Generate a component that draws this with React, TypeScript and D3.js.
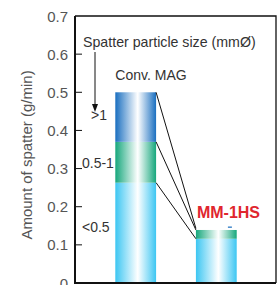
import React from "react";
import * as d3 from "d3";

// processes compared
const processes = ["Conv. MAG", "MM-1HS"];
// particle size classes, stacked from bottom to top
const sizeClasses = ["<0.5", "0.5-1", ">1"];
// spatter amount (g/min) per size class, same order as sizeClasses
const convMagValues = [0.263, 0.107, 0.13];
const mm1hsValues = [0.116, 0.023, 0.003];
const yTicks = [0, 0.1, 0.2, 0.3, 0.4, 0.5, 0.6, 0.7];

const W = 279;
const H = 285;
const FONT = "'Liberation Sans', Arial, sans-serif";
const segColors = ["#3cc6f2", "#16a77c", "#1a6fc0"];

const App: React.FC = () => {
  const y = d3.scaleLinear().domain([0, 0.7]).range([283, 16]);
  const x = d3
    .scaleBand<string>()
    .domain(processes)
    .range([75, 277])
    .paddingInner(0.494)
    .paddingOuter(0.5);
  const bw = x.bandwidth();

  const rows = [convMagValues, mm1hsValues];
  const stacked = rows.map((vals) => {
    let acc = 0;
    return vals.map((v) => {
      const s = { y0: acc, y1: acc + v };
      acc += v;
      return s;
    });
  });

  const x0 = x(processes[0])! + bw;
  const x1 = x(processes[1])!;
  const a = stacked[0];
  const b = stacked[1];
  // connector lines between the two bars
  const connectors = [
    [a[2].y1, b[1].y1 + 0.004],
    [a[1].y1, b[1].y1],
    [a[0].y1, b[0].y1],
  ];

  return (
    <svg
      width={W}
      height={H}
      style={{ position: "absolute", left: 0, top: 0, background: "#fff" }}
      fontFamily={FONT}
    >
      <defs>
        {segColors.map((c, i) => (
          <linearGradient id={`g${i}`} key={i} x1="0" x2="1" y1="0" y2="0">
            <stop offset="0" stopColor={c} />
            <stop offset="0.55" stopColor="#ffffff" />
            <stop offset="1" stopColor={c} />
          </linearGradient>
        ))}
      </defs>

      {/* frame */}
      <path d={`M75,${y(0.7)} H276 V${y(0)}`} fill="none" stroke="#111" strokeWidth={1.3} />

      {/* bars */}
      {stacked.map((segs, i) =>
        segs.map((s, j) => {
          if (i === 1 && j === 2) {
            return (
              <rect
                key={`${i}-${j}`}
                x={x(processes[i])! + 32}
                y={y(b[1].y1 + 0.009)}
                width={4}
                height={1.2}
                fill={segColors[2]}
              />
            );
          }
          return (
            <rect
              key={`${i}-${j}`}
              x={x(processes[i])!}
              y={y(s.y1)}
              width={bw}
              height={y(s.y0) - y(s.y1)}
              fill={`url(#g${j})`}
            />
          );
        })
      )}

      {connectors.map(([v0, v1], i) => (
        <line key={i} x1={x0} y1={y(v0)} x2={x1} y2={y(v1)} stroke="#111" strokeWidth={1} />
      ))}

      {/* y axis */}
      <line x1={75} x2={75} y1={y(0.7)} y2={y(0) + 1} stroke="#111" strokeWidth={2} />
      <line x1={74} x2={276} y1={y(0)} y2={y(0)} stroke="#111" strokeWidth={2} />
      {yTicks.map((t) => (
        <g key={t}>
          {t > 0 && t < 0.7 && (
            <line x1={75} x2={82} y1={y(t)} y2={y(t)} stroke="#111" strokeWidth={1} />
          )}
          <text x={68} y={y(t) + 5.5} textAnchor="end" fontSize={15} fill="#555">
            {t === 0 ? "0" : t.toFixed(1)}
          </text>
        </g>
      ))}
      <text
        transform={`translate(32,155) rotate(-90)`}
        textAnchor="middle"
        fontSize={15}
        fill="#555"
      >
        Amount of spatter (g/min)
      </text>

      {/* annotations */}
      <text x={83} y={47} fontSize={14.2} fill="#333">
        Spatter particle size (mmØ)
      </text>
      <line x1={95} x2={95} y1={52} y2={108} stroke="#111" strokeWidth={1} />
      <path d="M92,104 L95,112 L98,104 Z" fill="#111" />
      <text x={x(processes[0])!} y={80} fontSize={14} fill="#333">
        {processes[0]}
      </text>
      <text x={91} y={120} fontSize={14} fill="#333">
        {sizeClasses[2]}
      </text>
      <text x={82} y={168} fontSize={14} fill="#333">
        {sizeClasses[1]}
      </text>
      <text x={82} y={232} fontSize={14} fill="#333">
        {sizeClasses[0]}
      </text>
      <text x={x1 + 1} y={218} fontSize={16} fontWeight="bold" fill="#e0262e">
        {processes[1]}
      </text>
    </svg>
  );
};

export default App;
